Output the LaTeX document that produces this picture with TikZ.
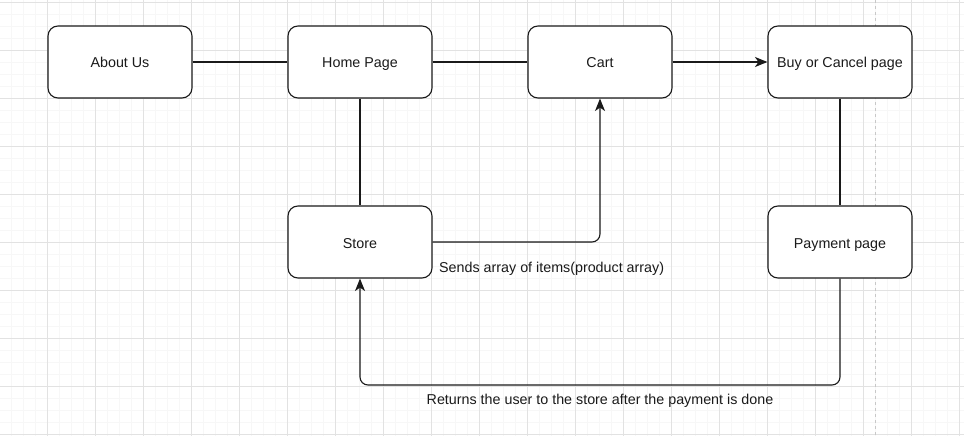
\documentclass[tikz,border=0pt]{standalone}
\usepackage{fontspec}
\setmainfont{Liberation Sans}
\usetikzlibrary{arrows.meta}
\definecolor{minorgrid}{HTML}{F7F7F7}
\definecolor{majorgrid}{HTML}{E2E2E2}
\definecolor{pageline}{HTML}{C8C8C8}
\definecolor{ink}{HTML}{1A1A1A}
\tikzset{
  pagebox/.style={draw=ink, line width=1.1pt, rounded corners=10pt, fill=white,
    minimum width=144pt, minimum height=72pt, inner sep=0pt, text height=14pt, text depth=2pt,
    font=\fontsize{14.3}{16}\selectfont, text=ink},
  conn/.style={draw=ink, line width=1.1pt},
  arr/.style={conn, -{Stealth[length=12.5pt,width=10pt,inset=3.5pt]}},
  lbl/.style={font=\fontsize{14.3}{16}\selectfont, text=ink, inner sep=0pt}
}
\begin{document}
\begin{tikzpicture}[x=1pt,y=-1pt]
\useasboundingbox (0,0) rectangle (964,436);
\fill[white] (0,0) rectangle (964,436);
% grid
\foreach \i in {0,...,80} {\draw[minorgrid, line width=0.8pt] ({-0.7+12*\i},0) -- ({-0.7+12*\i},436);}
\foreach \j in {0,...,36} {\draw[minorgrid, line width=0.8pt] (0,{2+12*\j}) -- (964,{2+12*\j});}
\foreach \i in {0,...,20} {\draw[majorgrid, line width=0.8pt] ({-0.7+48*\i},0) -- ({-0.7+48*\i},436);}
\foreach \j in {0,...,9} {\draw[majorgrid, line width=0.8pt] (0,{2+48*\j}) -- (964,{2+48*\j});}
\draw[pageline, dashed, line width=0.8pt] (875.5,0) -- (875.5,436);
% nodes
\node[pagebox] (about) at (120,62) {About Us};
\node[pagebox] (home) at (360,62) {Home Page};
\node[pagebox] (cart) at (600,62) {Cart};
\node[pagebox] (buy) at (840,62) {Buy or Cancel page};
\node[pagebox] (store) at (360,242) {Store};
\node[pagebox] (pay) at (840,242) {Payment page};
% connectors
\draw[conn] (about) -- (home);
\draw[conn] (home) -- (cart);
\draw[arr] (cart) -- (buy);
\draw[conn] (home) -- (store);
\draw[conn] (buy) -- (pay);
\draw[arr, rounded corners=8pt] (store.east) -| (cart.south);
\draw[arr, rounded corners=8pt] (pay.south) |- (600,385) -| (store.south);
% labels
\node[lbl, anchor=base west] (l1) at (439,272) {Sends array of items(product array)};
\node[lbl, anchor=base] (l2) at (600,404) {Returns the user to the store after the payment is done};
\end{tikzpicture}
\end{document}
